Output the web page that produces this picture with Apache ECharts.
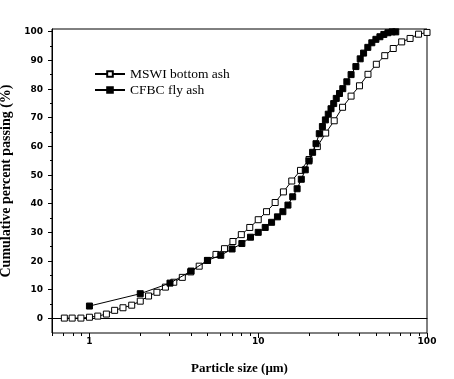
<!DOCTYPE html>
<html>
<head>
<meta charset="utf-8">
<script src="https://cdn.jsdelivr.net/npm/echarts@6/dist/echarts.min.js"></script>
<style>
html,body{margin:0;padding:0;background:#fff;}
#chart{width:454px;height:379px;}
</style>
</head>
<body>
<div id="chart"></div>
<script>
// ---- data ----
const seriesNames = ['MSWI bottom ash', 'CFBC fly ash'];

const mswiSize = [0.71,0.79,0.89,1.0,1.12,1.26,1.41,1.58,1.78,2.0,2.24,2.51,2.82,3.16,3.55,3.98,4.47,5.01,5.62,6.31,7.08,7.94,8.91,10,11.2,12.6,14.1,15.8,17.8,20,22.4,25.1,28.2,31.6,35.5,39.8,44.7,50.1,56.2,63.1,70.8,79.4,89.1,100];
const mswiPassing = [0.2,0.2,0.2,0.5,0.9,1.6,2.9,3.8,4.7,6.1,7.9,9.2,11.0,12.7,14.4,16.3,18.3,20.3,22.4,24.4,26.9,29.3,31.8,34.5,37.3,40.5,44.2,48.0,51.7,55.5,60.0,64.7,69.0,73.7,77.6,81.2,85.2,88.7,91.7,94.2,96.5,97.7,99.2,99.8];

const cfbcSize = [1,2,3,4,5,6,7,8,9,10,11,12,13,14,15,16,17,18,19,20,21,22,23,24,25,26,27,28,29,30.3,31.7,33.5,35.5,37.9,40.2,42.1,44.6,47.1,49.8,52.6,55.5,58.7,62.1,65.3];
const cfbcPassing = [4.4,8.7,12.4,16.6,20.3,22.1,24.3,26.2,28.4,30.1,31.8,33.6,35.5,37.3,39.6,42.5,45.3,48.6,51.9,55.0,58.0,61.0,64.5,67.0,69.3,71.3,73.2,75.0,76.8,78.5,80.2,82.6,85.1,87.9,90.6,92.6,94.6,96.2,97.4,98.3,99.1,99.7,100,100];

const xMajorTicks = [1, 10, 100];
const xMinorTicks = [0.6,0.7,0.8,0.9,2,3,4,5,6,7,8,9,20,30,40,50,60,70,80,90];
const yMajorTicks = [0,10,20,30,40,50,60,70,80,90,100];
const yMinorTicks = [5,15,25,35,45,55,65,75,85,95];
const X_MIN = 0.6, X_MAX = 100, Y_MIN = -5, Y_MAX = 101;

// ---- chart ----
const chart = echarts.init(document.getElementById('chart'), null, {renderer: 'canvas'});
const crisp = v => Math.round(v - 0.5) + 0.5;

function xTickItem(len) {
  return function (params, api) {
    const cs = params.coordSys;
    const px = crisp(api.coord([api.value(0), api.value(1)])[0]);
    const bottom = cs.y + cs.height;
    return {type: 'line', shape: {x1: px, y1: bottom, x2: px, y2: bottom + len},
            style: {stroke: '#000', lineWidth: 1}};
  };
}
function yTickItem(len) {
  return function (params, api) {
    const cs = params.coordSys;
    const py = crisp(api.coord([api.value(0), api.value(1)])[1]);
    return {type: 'line', shape: {x1: cs.x - len, y1: py, x2: cs.x, y2: py},
            style: {stroke: '#000', lineWidth: 1}};
  };
}

const tickFont = {fontFamily: 'DejaVu Sans', fontWeight: 'bold', fontSize: 9, color: '#000'};
const titleFont = {fontFamily: 'Liberation Serif', fontWeight: 'bold', color: '#000'};

const option = {
  animation: false,
  backgroundColor: '#fff',
  grid: {left: 52, right: 27, top: 29, bottom: 46, containLabel: false, outerBoundsMode: 'none',
         show: true, borderColor: '#000', borderWidth: 1},
  legend: {
    orient: 'vertical', left: 89, top: 62,
    itemWidth: 30, itemHeight: 7, itemGap: 2,
    data: seriesNames,
    textStyle: {fontFamily: 'Liberation Serif', fontSize: 13.5, color: '#000', lineHeight: 14}
  },
  xAxis: {
    type: 'log', logBase: 10, min: X_MIN, max: X_MAX,
    axisLine: {show: true, lineStyle: {color: '#000', width: 1}},
    axisTick: {show: false},
    splitLine: {show: false},
    axisLabel: Object.assign({
      margin: 4,
      formatter: v => {
        const e = Math.log10(v);
        return Math.abs(e - Math.round(e)) < 1e-6 && xMajorTicks.some(t => Math.abs(t - v) < 1e-6 * t) ? String(Math.round(v)) : '';
      }
    }, tickFont),
    name: 'Particle size (\u03bcm)', nameLocation: 'middle', nameGap: 29,
    nameTextStyle: Object.assign({fontSize: 13}, titleFont)
  },
  yAxis: {
    type: 'value', min: Y_MIN, max: Y_MAX, interval: 5,
    axisLine: {show: true, lineStyle: {color: '#000', width: 1}},
    axisTick: {show: false},
    splitLine: {show: false},
    axisLabel: Object.assign({
      margin: 9, interval: 0,
      formatter: v => (yMajorTicks.indexOf(v) >= 0 ? String(v) : '')
    }, tickFont),
    name: 'Cumulative percent passing (%)', nameLocation: 'middle', nameGap: 30,
    nameTextStyle: Object.assign({fontSize: 14}, titleFont)
  },
  series: [
    {
      name: seriesNames[0], type: 'line',
      data: mswiSize.map((x, i) => [x, mswiPassing[i]]),
      symbol: 'rect', symbolSize: 6,
      itemStyle: {color: '#fff', borderColor: '#000', borderWidth: 1},
      lineStyle: {color: '#000', width: 1},
      z: 3
    },
    {
      name: seriesNames[1], type: 'line',
      data: cfbcSize.map((x, i) => [x, cfbcPassing[i]]),
      symbol: 'rect', symbolSize: 6,
      itemStyle: {color: '#000', borderColor: '#000', borderWidth: 1},
      lineStyle: {color: '#000', width: 1},
      z: 4
    },
    {type: 'custom', silent: true, clip: false, renderItem: xTickItem(5), data: xMajorTicks.map(v => [v, Y_MIN])},
    {type: 'custom', silent: true, clip: false, renderItem: xTickItem(3), data: xMinorTicks.map(v => [v, Y_MIN])},
    {type: 'custom', silent: true, clip: false, renderItem: yTickItem(4), data: yMajorTicks.map(v => [X_MIN, v])},
    {type: 'custom', silent: true, clip: false, renderItem: yTickItem(2), data: yMinorTicks.map(v => [X_MIN, v])}
  ]
};
chart.setOption(option);
</script>
</body>
</html>
